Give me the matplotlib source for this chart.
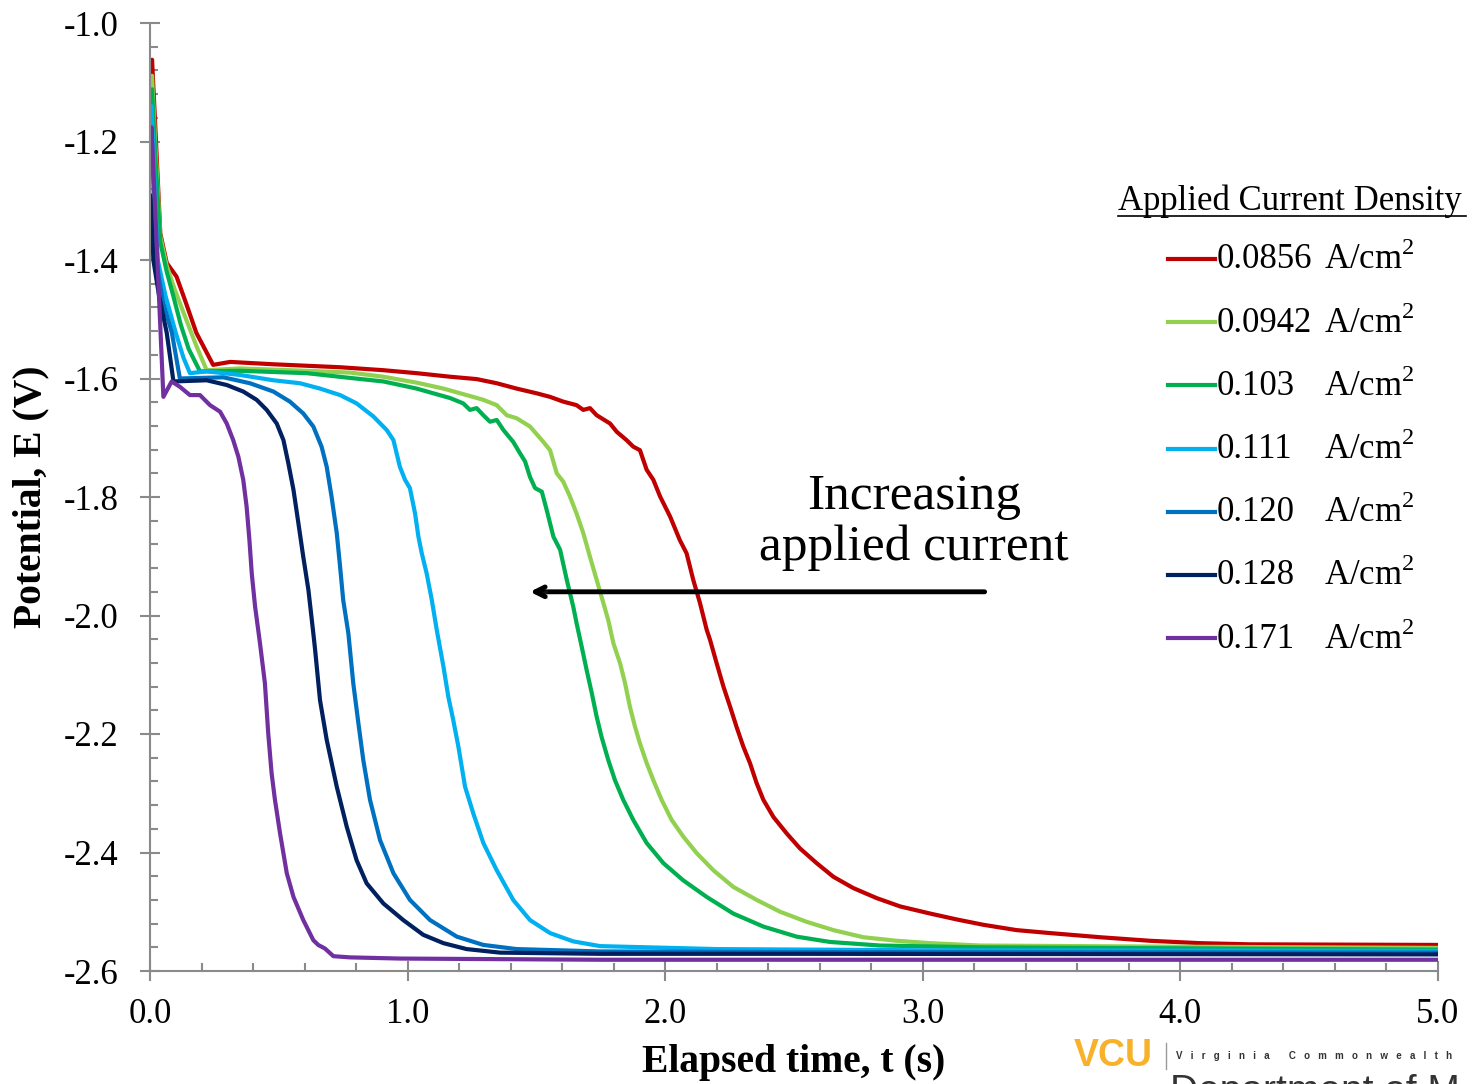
import matplotlib
matplotlib.use("Agg")
import matplotlib.pyplot as plt
import matplotlib.patheffects as pe
from matplotlib.lines import Line2D
from matplotlib.ticker import MultipleLocator, FormatStrFormatter

# current densities (A/cm2) and line colours
densities = ["0.0856", "0.0942", "0.103", "0.111", "0.120", "0.128", "0.171"]
colors = ["#C00000", "#92D050", "#00B050", "#00B0F0", "#0070C0", "#002060", "#7030A0"]

# chronopotentiometry traces: elapsed time (s) and potential (V)
t_0856 = [0.0, 0.008, 0.02, 0.04, 0.065, 0.103, 0.136, 0.18, 0.245, 0.311, 0.479, 0.738, 0.906,
          1.035, 1.165, 1.268, 1.346, 1.423, 1.501, 1.553, 1.604, 1.656, 1.682, 1.708, 1.734,
          1.786, 1.812, 1.850, 1.876, 1.902, 1.928, 1.954, 1.980, 2.019, 2.057, 2.083, 2.109,
          2.135, 2.161, 2.174, 2.200, 2.226, 2.252, 2.277, 2.303, 2.329, 2.355, 2.381, 2.420,
          2.472, 2.523, 2.588, 2.653, 2.730, 2.821, 2.912, 3.028, 3.132, 3.235, 3.364, 3.494,
          3.688, 3.882, 4.076, 4.270, 5.0]
E_0856 = [-1.10, -1.062, -1.17, -1.355, -1.405, -1.428, -1.468, -1.523, -1.577, -1.572, -1.576,
          -1.581, -1.586, -1.591, -1.597, -1.601, -1.608, -1.617, -1.625, -1.631, -1.639, -1.645,
          -1.653, -1.650, -1.662, -1.676, -1.690, -1.704, -1.715, -1.721, -1.754, -1.771, -1.799,
          -1.833, -1.873, -1.895, -1.940, -1.979, -2.024, -2.041, -2.081, -2.120, -2.154, -2.188,
          -2.221, -2.249, -2.283, -2.311, -2.340, -2.368, -2.393, -2.418, -2.441, -2.460, -2.477,
          -2.491, -2.503, -2.513, -2.522, -2.531, -2.536, -2.543, -2.549, -2.553, -2.555, -2.556]

t_0942 = [0.0, 0.008, 0.02, 0.04, 0.065, 0.097, 0.14, 0.18, 0.220, 0.349, 0.608, 0.776, 0.906,
          1.035, 1.139, 1.229, 1.294, 1.346, 1.385, 1.423, 1.475, 1.527, 1.553, 1.579, 1.604,
          1.630, 1.656, 1.682, 1.708, 1.734, 1.760, 1.779, 1.799, 1.825, 1.844, 1.863, 1.883,
          1.902, 1.928, 1.954, 1.986, 2.025, 2.070, 2.122, 2.187, 2.264, 2.355, 2.446, 2.549,
          2.653, 2.769, 2.899, 3.028, 3.222, 4.0, 5.0]
E_0942 = [-1.12, -1.089, -1.20, -1.36, -1.41, -1.451, -1.50, -1.545, -1.586, -1.583, -1.587,
          -1.590, -1.597, -1.607, -1.617, -1.628, -1.636, -1.645, -1.662, -1.667, -1.681, -1.707,
          -1.721, -1.760, -1.774, -1.799, -1.828, -1.861, -1.901, -1.940, -1.979, -2.008, -2.047,
          -2.081, -2.114, -2.154, -2.188, -2.216, -2.249, -2.278, -2.311, -2.345, -2.373, -2.401,
          -2.430, -2.458, -2.480, -2.500, -2.517, -2.531, -2.543, -2.549, -2.553, -2.557, -2.559,
          -2.561]

t_103 = [0.0, 0.008, 0.02, 0.04, 0.065, 0.09, 0.12, 0.15, 0.194, 0.349, 0.608, 0.776, 0.906,
         1.035, 1.100, 1.165, 1.216, 1.242, 1.268, 1.294, 1.320, 1.346, 1.372, 1.410, 1.436,
         1.456, 1.475, 1.495, 1.521, 1.540, 1.566, 1.592, 1.618, 1.643, 1.656, 1.676, 1.695,
         1.715, 1.734, 1.753, 1.779, 1.805, 1.837, 1.876, 1.928, 1.993, 2.070, 2.161, 2.264,
         2.381, 2.510, 2.640, 2.834, 3.222, 5.0]
E_103 = [-1.14, -1.112, -1.22, -1.37, -1.42, -1.46, -1.51, -1.55, -1.588, -1.587, -1.591, -1.599,
         -1.605, -1.617, -1.625, -1.633, -1.642, -1.653, -1.650, -1.662, -1.673, -1.670, -1.687,
         -1.707, -1.726, -1.740, -1.766, -1.785, -1.791, -1.822, -1.867, -1.889, -1.940, -1.985,
         -2.013, -2.053, -2.092, -2.131, -2.171, -2.205, -2.244, -2.278, -2.311, -2.345, -2.384,
         -2.418, -2.447, -2.475, -2.503, -2.525, -2.542, -2.551, -2.557, -2.560, -2.564]

t_111 = [0.0, 0.006, 0.03, 0.06, 0.10, 0.13, 0.155, 0.220, 0.349, 0.479, 0.582, 0.660, 0.738,
         0.802, 0.867, 0.919, 0.945, 0.970, 0.990, 1.009, 1.029, 1.042, 1.055, 1.074, 1.094,
         1.113, 1.139, 1.158, 1.177, 1.197, 1.223, 1.255, 1.294, 1.346, 1.410, 1.475, 1.553,
         1.643, 1.747, 2.2, 3.0, 5.0]
E_111 = [-1.16, -1.14, -1.40, -1.46, -1.523, -1.565, -1.591, -1.588, -1.594, -1.603, -1.608,
         -1.617, -1.628, -1.642, -1.664, -1.687, -1.704, -1.749, -1.771, -1.785, -1.828, -1.867,
         -1.895, -1.929, -1.974, -2.024, -2.086, -2.137, -2.176, -2.221, -2.289, -2.334, -2.384,
         -2.430, -2.480, -2.514, -2.536, -2.550, -2.558, -2.563, -2.565, -2.566]

t_120 = [0.0, 0.006, 0.023, 0.05, 0.085, 0.116, 0.285, 0.388, 0.479, 0.543, 0.595, 0.634, 0.666,
         0.686, 0.705, 0.725, 0.738, 0.750, 0.770, 0.789, 0.809, 0.828, 0.854, 0.893, 0.945,
         1.009, 1.087, 1.191, 1.294, 1.423, 1.747, 2.5, 5.0]
E_120 = [-1.20, -1.18, -1.40, -1.47, -1.523, -1.600, -1.598, -1.608, -1.622, -1.639, -1.659,
         -1.681, -1.715, -1.749, -1.800, -1.861, -1.918, -1.974, -2.030, -2.114, -2.182, -2.244,
         -2.311, -2.379, -2.435, -2.480, -2.514, -2.542, -2.556, -2.563, -2.567, -2.568, -2.569]

t_128 = [0.0, 0.004, 0.013, 0.035, 0.065, 0.091, 0.220, 0.298, 0.362, 0.414, 0.453, 0.492, 0.518,
         0.537, 0.557, 0.576, 0.595, 0.615, 0.634, 0.641, 0.660, 0.686, 0.725, 0.764, 0.802,
         0.841, 0.906, 0.983, 1.061, 1.139, 1.229, 1.359, 1.747, 2.5, 5.0]
E_128 = [-1.29, -1.30, -1.40, -1.46, -1.523, -1.605, -1.603, -1.611, -1.622, -1.636, -1.653,
         -1.676, -1.704, -1.743, -1.788, -1.844, -1.901, -1.957, -2.030, -2.058, -2.143, -2.210,
         -2.289, -2.357, -2.413, -2.452, -2.486, -2.514, -2.539, -2.553, -2.563, -2.569, -2.571,
         -2.571, -2.572]

t_171 = [0.0, 0.006, 0.052, 0.084, 0.116, 0.155, 0.194, 0.233, 0.272, 0.298, 0.323, 0.343, 0.362,
         0.375, 0.386, 0.395, 0.408, 0.427, 0.446, 0.459, 0.472, 0.485, 0.505, 0.531, 0.557,
         0.595, 0.634, 0.653, 0.679, 0.712, 0.776, 0.971, 1.747, 5.0]
E_171 = [-1.20, -1.176, -1.631, -1.605, -1.614, -1.628, -1.628, -1.645, -1.656, -1.676, -1.704,
         -1.732, -1.771, -1.816, -1.873, -1.929, -1.985, -2.047, -2.114, -2.199, -2.266, -2.311,
         -2.368, -2.435, -2.475, -2.514, -2.548, -2.556, -2.562, -2.575, -2.577, -2.579, -2.581,
         -2.581]

times = [t_0856, t_0942, t_103, t_111, t_120, t_128, t_171]
potentials = [E_0856, E_0942, E_103, E_111, E_120, E_128, E_171]

W, H = 1478, 1084
plt.rcParams["font.family"] = ["Liberation Serif", "DejaVu Serif"]
plt.rcParams["axes.unicode_minus"] = False
plt.rcParams["mathtext.fontset"] = "custom"
plt.rcParams["mathtext.rm"] = "Liberation Serif"
fig = plt.figure(figsize=(W / 100, H / 100), dpi=100)
ax = fig.add_axes([150 / W, 1 - 971 / H, 1288 / W, 948 / H])

for t, E, c in zip(times, potentials, colors):
    ax.plot(t, E, color=c, lw=3, solid_joinstyle="round", solid_capstyle="round")

ax.set_xlim(0, 5)
ax.set_ylim(-2.6, -1.0)
ax.xaxis.set_major_locator(MultipleLocator(1.0))
ax.xaxis.set_minor_locator(MultipleLocator(0.2))
ax.yaxis.set_major_locator(MultipleLocator(0.2))
ax.yaxis.set_minor_locator(MultipleLocator(0.04))
ax.xaxis.set_major_formatter(FormatStrFormatter("%.1f"))
ax.yaxis.set_major_formatter(FormatStrFormatter("%.1f"))

axis_grey = "#8a8a8a"
for s in ["top", "right"]:
    ax.spines[s].set_visible(False)
for s in ["left", "bottom"]:
    ax.spines[s].set_color(axis_grey)
    ax.spines[s].set_linewidth(1.5)
ax.tick_params(which="major", direction="inout", length=15, width=1.5, color=axis_grey,
               labelsize=25, labelcolor="black")
ax.tick_params(axis="y", which="major", pad=15)
ax.tick_params(axis="x", which="major", pad=12)
ax.tick_params(which="minor", direction="in", length=6, width=1.5, color=axis_grey)

ax.set_xlabel("Elapsed time, t (s)", fontsize=28.5, fontweight="bold")
ax.set_ylabel("Potential, E (V)", fontsize=28.5, fontweight="bold")
ax.xaxis.set_label_coords(0.5, -0.077)
ax.yaxis.set_label_coords(-0.078, 0.5)

# arrow and note
ax.annotate("", xy=(1.475, -1.96), xytext=(3.24, -1.96),
            arrowprops=dict(arrowstyle="->,head_length=0.7,head_width=0.35", lw=3.5,
                            color="black", shrinkA=0, shrinkB=0,
                            path_effects=[pe.SimplePatchShadow(offset=(2, -2), alpha=0.25),
                                          pe.Normal()]))
ax.text(2.966, -1.842, "Increasing\napplied current", fontsize=37, ha="center", va="center",
        linespacing=1.13)


def fx(px):
    return px / W


def fy(py):
    return 1 - py / H


# legend block
fig.text(fx(1118), fy(201), "Applied Current Density", fontsize=25, ha="left", va="center")
fig.add_artist(Line2D([fx(1118), fx(1466)], [fy(216), fy(216)], color="black", lw=1.2))
row_y = 259
for d, c in zip(densities, colors):
    fig.add_artist(Line2D([fx(1168), fx(1215)], [fy(row_y), fy(row_y)], color=c, lw=3))
    fig.text(fx(1217), fy(row_y + 1), d, fontsize=25, ha="left", va="center")
    fig.text(fx(1324), fy(row_y + 1), "A/cm$^2$", fontsize=25, ha="left", va="center")
    row_y += 63.2

# footer logo
fig.text(fx(1074), fy(1056), "VCU", fontsize=27, fontweight="bold", color="#F8B229",
         family="Liberation Sans", ha="left", va="center")
fig.add_artist(Line2D([fx(1166), fx(1166)], [fy(1043), fy(1069)], color="#9a9a9a", lw=1))
fig.text(fx(1176), fy(1056), "V   i   r   g   i   n   i   a       C   o   m   m   o   n   w   e   a   l   t   h",
         fontsize=7, fontweight="bold", family="Liberation Sans", ha="left", va="center",
         color="#333333")
fig.text(fx(1170), fy(1074), "Department of M", fontsize=28, family="Liberation Sans",
         ha="left", va="top", color="#333333")

fig.savefig("out.png", dpi=100, facecolor="white")
